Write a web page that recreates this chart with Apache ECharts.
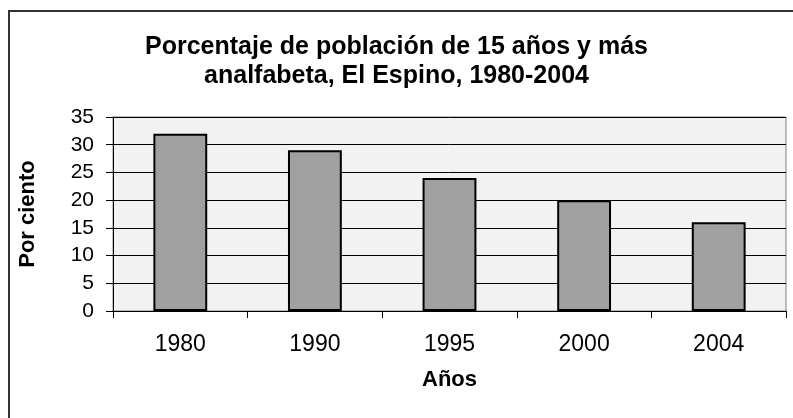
<!DOCTYPE html>
<html lang="es">
<head>
    <meta charset="UTF-8">
    <title>Analfabetismo El Espino</title>
    <script src="https://cdn.jsdelivr.net/npm/echarts@6/dist/echarts.min.js"></script>
    <style>
        html, body { margin: 0; padding: 0; background: #fff; }
        #main { width: 793px; height: 418px; }
    </style>
</head>
<body>
<div id="main"></div>
<script type="text/javascript">
    // datos
    var years = ['1980', '1990', '1995', '2000', '2004'];
    var percent = [32, 29, 24, 20, 16];
    var yTicks = { min: 0, max: 35, step: 5 };

    var font = "'Liberation Sans', Arial, sans-serif";
    var myChart = echarts.init(document.getElementById('main'));

    var option = {
        animation: false,
        backgroundColor: '#fff',
        title: {
            text: 'Porcentaje de población de 15 años y más\nanalfabeta, El Espino, 1980-2004',
            left: 'center',
            top: 28,
            textStyle: {
                fontFamily: font,
                fontSize: 25,
                fontWeight: 'bold',
                color: '#000',
                lineHeight: 29
            }
        },
        graphic: [{
            type: 'rect',
            shape: { x: 9, y: 11, width: 820, height: 440 },
            style: { fill: 'none', stroke: '#333', lineWidth: 2 },
            silent: true,
            z: 10
        }],
        grid: {
            left: 113,
            right: 7,
            top: 117,
            bottom: 107,
            show: true,
            backgroundColor: '#f2f2f2',
            borderColor: '#808080',
            borderWidth: 1
        },
        xAxis: {
            type: 'category',
            data: years,
            name: 'Años',
            nameLocation: 'middle',
            nameGap: 58,
            nameTextStyle: { fontFamily: font, fontSize: 22, fontWeight: 'bold', color: '#000' },
            axisLine: { lineStyle: { color: '#000', width: 1 } },
            axisTick: { show: true, length: 7, lineStyle: { color: '#000' } },
            axisLabel: { fontFamily: font, fontSize: 23, color: '#000', margin: 22 }
        },
        yAxis: {
            type: 'value',
            min: yTicks.min,
            max: yTicks.max,
            interval: yTicks.step,
            name: 'Por ciento',
            nameLocation: 'middle',
            nameRotate: 90,
            nameGap: 74,
            nameTextStyle: { fontFamily: font, fontSize: 22, fontWeight: 'bold', color: '#000' },
            axisLine: { show: true, lineStyle: { color: '#000', width: 1 } },
            axisTick: { show: true, length: 7, lineStyle: { color: '#000' } },
            axisLabel: { fontFamily: font, fontSize: 21, color: '#000', margin: 19 },
            splitLine: { show: true, lineStyle: { color: '#000', width: 1 } }
        },
        series: [{
            type: 'bar',
            data: percent,
            barWidth: '40%',
            itemStyle: { color: '#a0a0a0', borderColor: '#000', borderWidth: 2 }
        }]
    };

    myChart.setOption(option);
</script>
</body>
</html>
